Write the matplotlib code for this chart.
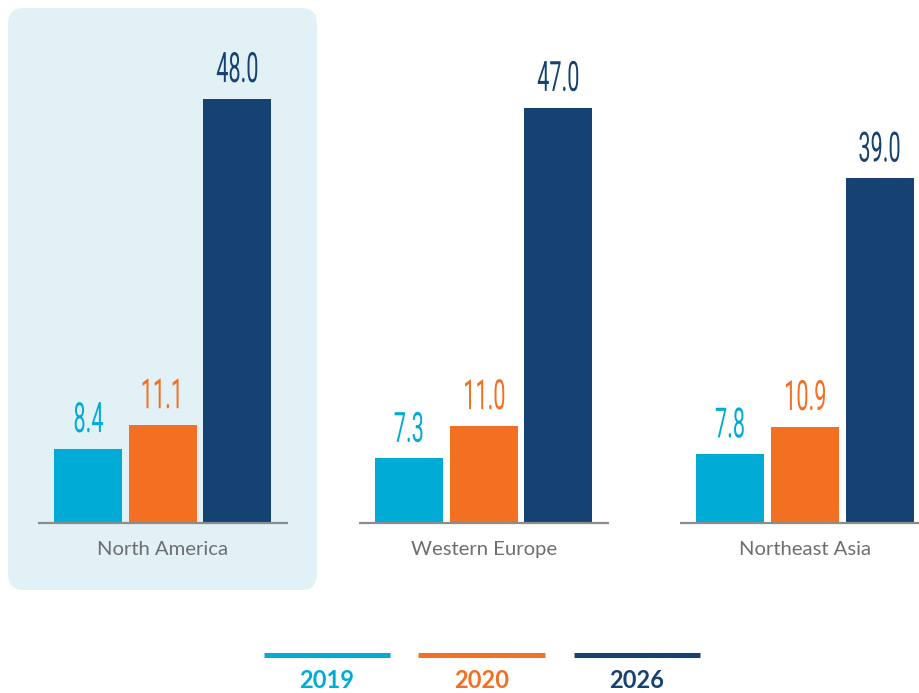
import matplotlib
matplotlib.use("Agg")
import matplotlib.pyplot as plt
from matplotlib.patches import FancyBboxPatch
from matplotlib.lines import Line2D
from matplotlib.patheffects import AbstractPathEffect
from matplotlib.transforms import Affine2D, IdentityTransform

regions = ["North America", "Western Europe", "Northeast Asia"]
years = ["2019", "2020", "2026"]
v2019 = [8.4, 7.3, 7.8]
v2020 = [11.1, 11.0, 10.9]
v2026 = [48.0, 47.0, 39.0]
series = [v2019, v2020, v2026]
colors = ["#00ACD6", "#F36F21", "#154273"]


class Squeeze(AbstractPathEffect):
    # narrow the glyphs horizontally, the labels use a condensed face
    def __init__(self, sx):
        super().__init__()
        self.sx = sx

    def draw_path(self, renderer, gc, tpath, affine, rgbFace=None):
        ext = tpath.get_extents()
        cx = (ext.x0 + ext.x1) / 2
        t = Affine2D().translate(-cx, 0).scale(self.sx, 1).translate(cx, 0) + affine
        renderer.draw_path(gc, tpath, t, rgbFace)


W, H = 920, 693
fig = plt.figure(figsize=(W / 100, H / 100), dpi=100)
ax = fig.add_axes([0, 0, 1, 1])
ax.axis("off")

gap = 321.0          # pixels between group centres
ppu = 8.84           # pixels per unit on y
ax.set_xlim(-163 / gap, (W - 163) / gap)
ax.set_ylim(-(H - 523) / ppu, 523 / ppu)

# highlight panel behind North America
panel = FancyBboxPatch((8, H - 590), 309, 582, boxstyle="round,pad=0,rounding_size=16",
                       transform=IdentityTransform(), facecolor="#E1F1F6",
                       edgecolor="none", zorder=0, clip_on=False)
ax.add_patch(panel)

offsets = [-75 / gap, 0, 74.5 / gap]
width = 68 / gap
for s, vals in enumerate(series):
    xs = [i + offsets[s] for i in range(len(regions))]
    bars = ax.bar(xs, vals, width=width, color=colors[s], zorder=2)
    for b, v in zip(bars, vals):
        ax.annotate(f"{v:.1f}", (b.get_x() + b.get_width() / 2, v),
                    xytext=(0, 12), textcoords="offset points",
                    ha="center", va="baseline", fontsize=30, color=colors[s],
                    family="Roboto", path_effects=[Squeeze(0.52)])

for i, name in enumerate(regions):
    ax.hlines(0, i - 125 / gap, i + 125 / gap, color="#8C8C8C", lw=1.6, zorder=3)
    ax.text(i, -32 / ppu, name, ha="center", va="baseline", fontsize=14.6,
            color="#6D6E71", family="Lato")

# legend
leg_x = [(264, 390), (418, 545), (574, 700)]
for (x0, x1), yr, c in zip(leg_x, years, colors):
    fig.add_artist(Line2D([x0 / W, x1 / W], [1 - 654.5 / H] * 2, color=c, lw=3.6,
                          solid_capstyle="butt"))
    fig.text((x0 + x1) / 2 / W, (H - 688) / H, yr, ha="center", va="baseline",
             fontsize=17, fontweight="bold", color=c, family="Lato")

fig.savefig("out.png", dpi=100)
